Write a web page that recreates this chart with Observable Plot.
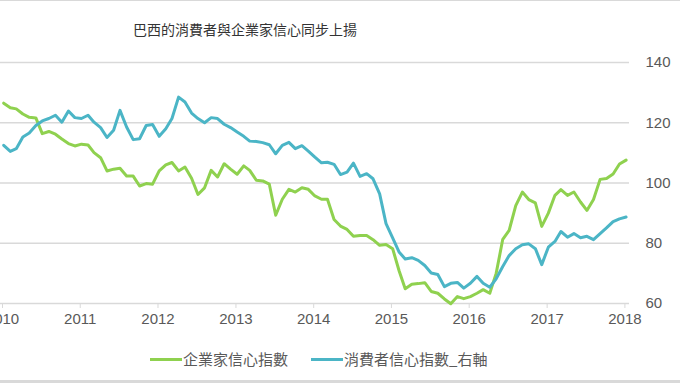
<!DOCTYPE html>
<html><head><meta charset="utf-8">
<script src="https://cdn.jsdelivr.net/npm/d3@7"></script>
<script src="https://cdn.jsdelivr.net/npm/@observablehq/plot@0.6"></script>
<style>
body{margin:0;width:680px;height:383px;position:relative;overflow:hidden;background:#fff;font-family:"Liberation Sans","Noto Sans CJK TC",sans-serif;}
#title{position:absolute;top:19px;left:0;width:490px;text-align:center;font-size:14px;color:#333;font-family:"Noto Sans CJK TC",sans-serif;line-height:20px;}
#chart{position:absolute;top:0;left:0;}
#legend{position:absolute;top:348px;left:150px;display:flex;align-items:center;font-size:15px;color:#595959;font-family:"Noto Sans CJK TC",sans-serif;line-height:22px;}
.sw{display:inline-block;width:32px;height:3px;margin-right:1px;}
.item{display:flex;align-items:center;margin-right:23px;}
#topb{position:absolute;top:0;left:0;width:680px;height:1px;background:#d9d9d9;}
#botb{position:absolute;top:380px;left:0;width:680px;height:3px;background:#d9d9d9;}
</style></head>
<body>
<div id="topb"></div>
<div id="title">巴西的消費者與企業家信心同步上揚</div>
<div id="chart"></div>
<div id="legend"></div>
<div id="botb"></div>
<script>
// Monthly, Jan 2010 – Jan 2018
const startYear = 2010;
const seriesNames = ["企業家信心指數", "消費者信心指數_右軸"];
const seriesColors = ["#8fd14f", "#4bb5c6"];
const business = [126.5,125.0,124.6,122.9,121.8,121.6,116.4,117.1,116.2,114.6,113.1,112.3,
112.9,112.6,110.1,108.4,104.0,104.6,104.9,102.3,102.3,99.0,99.8,99.6,
104.0,106.0,106.8,104.0,105.3,101.6,96.2,98.4,104.2,102.0,106.4,104.6,
102.9,105.7,104.2,100.9,100.7,99.6,89.3,94.6,97.9,97.0,98.4,97.9,
95.7,94.6,94.6,87.9,85.7,84.6,82.3,82.6,82.6,81.2,79.3,79.6,
78.2,70.7,64.9,66.4,66.6,66.9,64.0,63.4,61.5,59.9,62.3,61.6,
62.3,63.4,64.6,63.4,70.0,81.3,84.3,92.5,97.0,94.5,93.4,85.6,
90.0,95.9,97.8,95.9,97.0,93.7,90.9,94.5,101.2,101.5,103.0,106.3,
107.6];
const consumer = [112.5,110.5,111.4,115.3,116.6,119.1,120.6,121.4,122.5,120.2,123.9,121.7,
121.4,122.5,120.2,118.4,115.1,117.5,124.1,118.6,114.4,114.7,119.1,119.4,
115.5,118.0,121.4,128.5,126.9,123.2,121.4,120.0,121.7,121.4,119.5,118.4,
116.9,115.5,113.9,113.8,113.4,112.7,109.7,112.5,113.5,111.4,112.4,110.6,
108.6,106.7,106.9,106.2,102.8,103.6,106.6,102.2,103.1,101.4,96.4,86.5,
81.8,77.0,74.8,75.2,74.3,72.6,70.1,69.6,65.6,66.7,67.0,65.1,
66.7,69.0,66.7,65.4,68.2,72.3,75.9,78.2,79.5,79.8,78.2,72.9,
78.7,80.6,83.9,82.0,83.2,81.8,82.3,81.2,83.2,85.1,87.2,88.1,
88.7];
const yearTicks = [2010,2011,2012,2013,2014,2015,2016,2017,2018];
const yTicks = [60,80,100,120,140];

const dateOf = i => new Date(Date.UTC(startYear, i, 16));
const rows = [];
business.forEach((v,i)=>rows.push({date:dateOf(i), value:v, s:seriesNames[0]}));
consumer.forEach((v,i)=>rows.push({date:dateOf(i), value:v, s:seriesNames[1]}));
const yearDates = yearTicks.map(y=>new Date(Date.UTC(y,0,1)));

const chart = Plot.plot({
  width: 680, height: 340,
  marginLeft: 0, marginRight: 51, marginTop: 62, marginBottom: 37,
  style: {fontFamily: "Liberation Sans, sans-serif", fontSize: "15px", color: "#595959", overflow: "visible"},
  x: {type: "utc", domain: [new Date(Date.UTC(2010,0,1)), new Date(Date.UTC(2018,1,1))]},
  y: {domain: [60,140]},
  color: {domain: seriesNames, range: seriesColors},
  marks: [
    Plot.gridY(yTicks.slice(1), {stroke: "#d9d9d9", strokeOpacity: 1, strokeWidth: 1.3}),
    Plot.ruleY([60], {stroke: "#d9d9d9", strokeWidth: 1.3}),
    Plot.axisX(yearDates, {tickSize: 5, tickFormat: d3.utcFormat("%Y"), stroke: "#d9d9d9", fill: "#595959", tickPadding: 5, dx: 2, label: null}),
    Plot.axisY(yTicks, {anchor: "right", tickSize: 0, tickPadding: 16, textAnchor: "start", fill: "#595959", label: null}),
    Plot.line(rows, {x: "date", y: "value", z: "s", stroke: "s", strokeWidth: 3, curve: "linear"})
  ]
});
document.getElementById("chart").appendChild(chart);

const leg = document.getElementById("legend");
seriesNames.forEach((n,i)=>{
  const it = document.createElement("div"); it.className = "item";
  const sw = document.createElement("span"); sw.className = "sw"; sw.style.background = seriesColors[i];
  const t = document.createElement("span"); t.textContent = n;
  it.appendChild(sw); it.appendChild(t); leg.appendChild(it);
});
</script>
</body></html>
